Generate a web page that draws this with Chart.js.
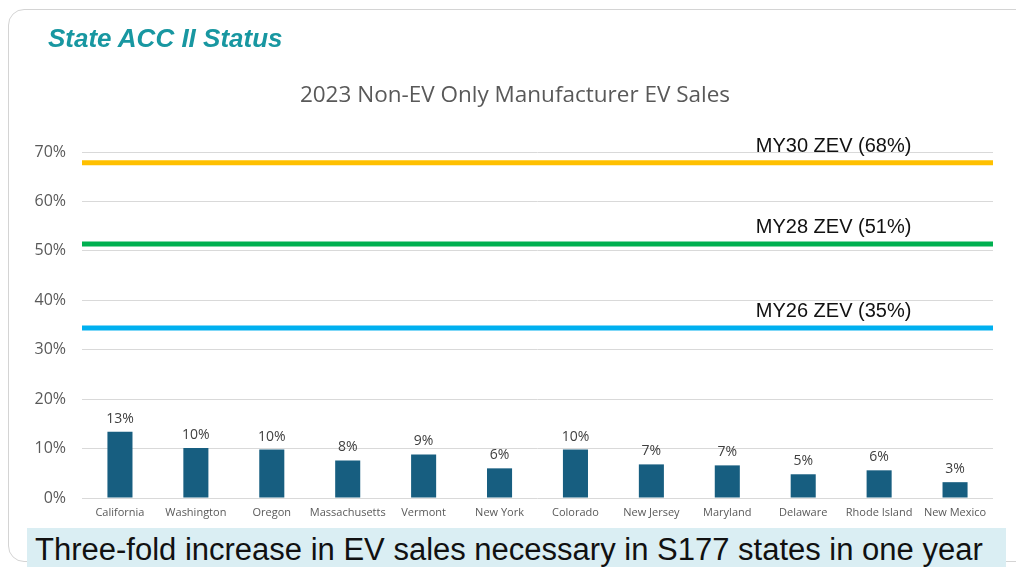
<!DOCTYPE html>
<html>
<head>
<meta charset="utf-8">
<script src="https://cdn.jsdelivr.net/npm/chart.js@4"></script>
<style>
  html,body{margin:0;padding:0;background:#fff;}
  body{width:1016px;height:567px;position:relative;overflow:hidden;font-family:"Liberation Sans",Arial,sans-serif;}
  #frame{position:absolute;left:8px;top:9px;width:1030px;height:553px;border:1px solid #d4d4d4;border-radius:16px;box-sizing:border-box;}
  #c{position:absolute;left:0;top:0;}
  #hdr{position:absolute;left:48px;top:22px;font:italic bold 26px "Liberation Sans",Arial,sans-serif;color:#1897a1;white-space:nowrap;line-height:32px;}
  #ttl{position:absolute;left:0;width:1030px;top:79px;text-align:center;font:22.5px "Open Sans",sans-serif;color:#595959;white-space:nowrap;line-height:30px;}
  #banner{position:absolute;left:27px;top:528px;width:979px;height:39px;background:#daeef3;}
  #banner span{position:absolute;left:8px;top:2px;font:31px "Liberation Sans",Arial,sans-serif;color:#111;white-space:nowrap;line-height:40px;}
</style>
</head>
<body>
<div id="frame"></div>
<canvas id="c" width="1016" height="567"></canvas>
<div id="hdr">State ACC II Status</div>
<div id="ttl">2023 Non-EV Only Manufacturer EV Sales</div>
<div id="banner"><span>Three-fold increase in EV sales necessary in S177 states in one year</span></div>
<script>
const states = ["California","Washington","Oregon","Massachusetts","Vermont","New York","Colorado","New Jersey","Maryland","Delaware","Rhode Island","New Mexico"];
const evShare = [13.4,10.1,9.8,7.6,8.8,6.0,9.8,6.8,6.6,4.8,5.6,3.2];
const targetNames = ["MY30 ZEV (68%)","MY28 ZEV (51%)","MY26 ZEV (35%)"];
const targetValues = [67.8,51.4,34.4];
const targetColors = ["#ffc000","#00b050","#00b0f0"];
const yTicks = [0,10,20,30,40,50,60,70];

const lineDatasets = targetValues.map((v,i)=>({
  type:'line',
  label: targetNames[i],
  data:[{x:0,y:v},{x:1,y:v}],
  xAxisID:'x2',
  borderColor: targetColors[i],
  backgroundColor: targetColors[i],
  borderWidth:5,
  pointRadius:0,
  clip:false,
  order:0
}));

const labelPlugin = {
  id:'labels',
  afterDatasetsDraw(chart){
    const ctx = chart.ctx;
    ctx.save();
    const meta = chart.getDatasetMeta(0);
    ctx.font = '14px "Open Sans", sans-serif';
    ctx.fillStyle = '#404040';
    ctx.textAlign = 'center';
    ctx.textBaseline = 'middle';
    meta.data.forEach((bar,i)=>{
      ctx.fillText(Math.round(evShare[i]) + '%', bar.x, bar.y - 13);
    });
    ctx.font = '20px "Liberation Sans", Arial, sans-serif';
    ctx.fillStyle = '#111';
    targetValues.forEach((v,i)=>{
      const y = chart.scales.y.getPixelForValue(v);
      const x = chart.chartArea.left + (chart.chartArea.right - chart.chartArea.left)*0.825;
      ctx.fillText(targetNames[i], x, y - 16.5);
    });
    ctx.restore();
  }
};

new Chart(document.getElementById('c'), {
  type:'bar',
  data:{
    labels: states,
    datasets:[
      {
        label:'EV Sales',
        data: evShare,
        backgroundColor:'#175e80',
        barPercentage:0.33,
        categoryPercentage:1.0,
        grouped:false,
        order:1
      },
      ...lineDatasets
    ]
  },
  options:{
    responsive:false,
    animation:false,
    devicePixelRatio:1,
    layout:{padding:{left:0,right:23,top:152,bottom:39}},
    plugins:{legend:{display:false},tooltip:{enabled:false},title:{display:false}},
    scales:{
      x:{
        offset:true,
        grid:{display:false,drawTicks:false,offset:true},
        border:{display:false},
        ticks:{color:'#595959',font:{family:'"Open Sans", sans-serif',size:11},padding:8,maxRotation:0,autoSkip:false},
        afterFit(s){ s.height = 30; }
      },
      x2:{
        type:'linear', display:false, min:0, max:1, offset:false, grid:{offset:false}
      },
      y:{
        min:0,max:70,
        afterBuildTicks(s){ s.ticks = yTicks.map(v=>({value:v})); },
        grid:{color:'#d9d9d9',drawTicks:false,lineWidth:1},
        border:{display:false},
        ticks:{color:'#595959',font:{family:'"Open Sans", sans-serif',size:16},padding:16,callback:v=>v+'%'},
        afterFit(s){ s.width = 82; }
      }
    }
  },
  plugins:[labelPlugin]
});
</script>
</body>
</html>
